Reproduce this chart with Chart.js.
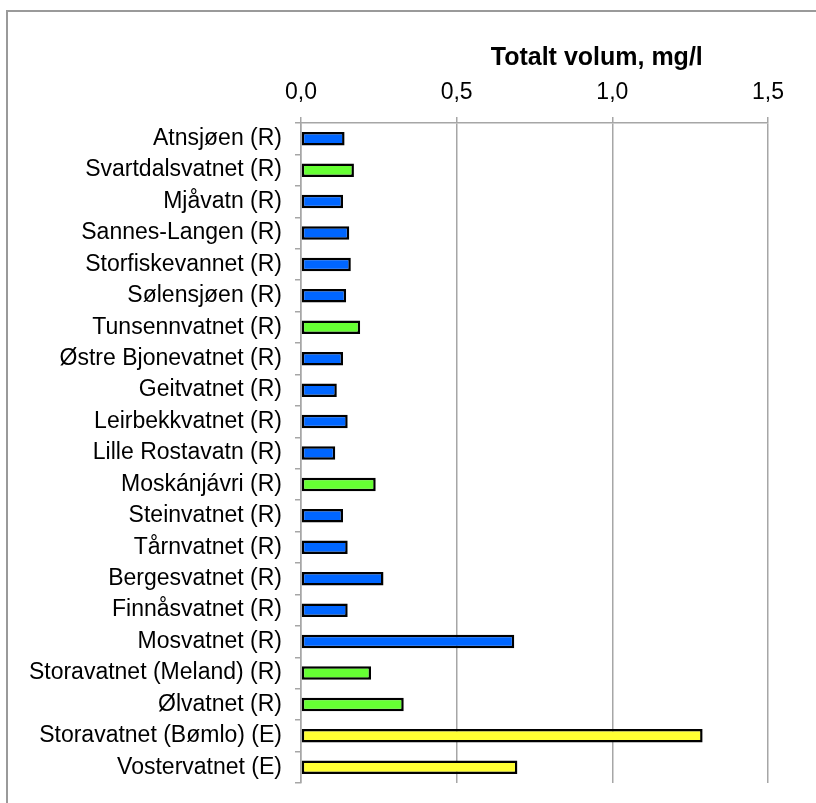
<!DOCTYPE html>
<html>
<head>
<meta charset="utf-8">
<script src="https://cdn.jsdelivr.net/npm/chart.js@4"></script>
<style>
    body { margin: 0; background: #fff; }
    #ramme { position: absolute; left: 6px; top: 10px; width: 900px; height: 900px; border: 2px solid #9a9a9a; box-sizing: border-box; }
    #volumChart { position: absolute; left: 0; top: 0; }
</style>
</head>
<body>
<div id="ramme"></div>
<canvas id="volumChart" width="816" height="803"></canvas>
<script>
// Innsjøer
const lakes = [
    'Atnsjøen (R)', 'Svartdalsvatnet (R)', 'Mjåvatn (R)', 'Sannes-Langen (R)', 'Storfiskevannet (R)',
    'Sølensjøen (R)', 'Tunsennvatnet (R)', 'Østre Bjonevatnet (R)', 'Geitvatnet (R)', 'Leirbekkvatnet (R)',
    'Lille Rostavatn (R)', 'Moskánjávri (R)', 'Steinvatnet (R)', 'Tårnvatnet (R)', 'Bergesvatnet (R)',
    'Finnåsvatnet (R)', 'Mosvatnet (R)', 'Storavatnet (Meland) (R)', 'Ølvatnet (R)',
    'Storavatnet (Bømlo) (E)', 'Vostervatnet (E)'
];

// Totalt volum, mg/l
const volum = [
    0.14, 0.17, 0.135, 0.155, 0.16,
    0.145, 0.19, 0.135, 0.115, 0.15,
    0.11, 0.24, 0.135, 0.15, 0.265,
    0.15, 0.685, 0.225, 0.33,
    1.29, 0.695
];

// gruppe per innsjø (styrer farge)
const gruppe = [
    'b', 'g', 'b', 'b', 'b',
    'b', 'g', 'b', 'b', 'b',
    'b', 'g', 'b', 'b', 'b',
    'b', 'b', 'g', 'g',
    'y', 'y'
];

const xTicks = ['0,0', '0,5', '1,0', '1,5'];
const axisTitle = 'Totalt volum, mg/l';

const farger = { b: '#0066FF', g: '#66FF33', y: '#FFFF33' };
const fontFamily = '"Liberation Sans", Arial, sans-serif';

// Tegner aksetittelen over x-aksen
const titlePlugin = {
    id: 'aksetittel',
    afterDraw(chart) {
        const ctx = chart.ctx;
        const x = chart.scales.x.getPixelForValue(0.95);
        ctx.save();
        ctx.font = 'bold 25px ' + fontFamily;
        ctx.fillStyle = '#000';
        ctx.textAlign = 'center';
        ctx.textBaseline = 'alphabetic';
        ctx.fillText(axisTitle, x, 65);
        ctx.restore();
    }
};

new Chart(document.getElementById('volumChart').getContext('2d'), {
    type: 'bar',
    data: {
        labels: lakes,
        datasets: [{
            data: volum,
            backgroundColor: gruppe.map(g => farger[g]),
            borderColor: '#000',
            borderWidth: 2.5,
            borderSkipped: false,
            barPercentage: 0.43,
            categoryPercentage: 1
        }]
    },
    options: {
        indexAxis: 'y',
        responsive: false,
        animation: false,
        layout: { padding: { left: 0, right: 48, top: 0, bottom: 20 } },
        plugins: {
            legend: { display: false },
            tooltip: { enabled: false }
        },
        scales: {
            x: {
                position: 'top',
                min: 0,
                max: 1.5,
                ticks: {
                    stepSize: 0.5,
                    color: '#000',
                    padding: 11,
                    font: { family: fontFamily, size: 23 },
                    callback: (v, i) => xTicks[i]
                },
                grid: { color: '#a6a6a6', lineWidth: 1.5, tickLength: 6 },
                border: { color: '#a6a6a6', width: 1.5 },
                afterFit: scale => { scale.height = 123; }
            },
            y: {
                ticks: {
                    color: '#000',
                    padding: 13,
                    font: { family: fontFamily, size: 23 },
                    autoSkip: false
                },
                grid: { drawOnChartArea: false, color: '#a6a6a6', lineWidth: 1.5, tickLength: 6 },
                border: { color: '#a6a6a6', width: 1.5 },
                afterFit: scale => {
                    scale.width = 301;
                    scale.paddingTop = 0;
                    scale.paddingBottom = 0;
                }
            }
        }
    },
    plugins: [titlePlugin]
});
</script>
</body>
</html>
